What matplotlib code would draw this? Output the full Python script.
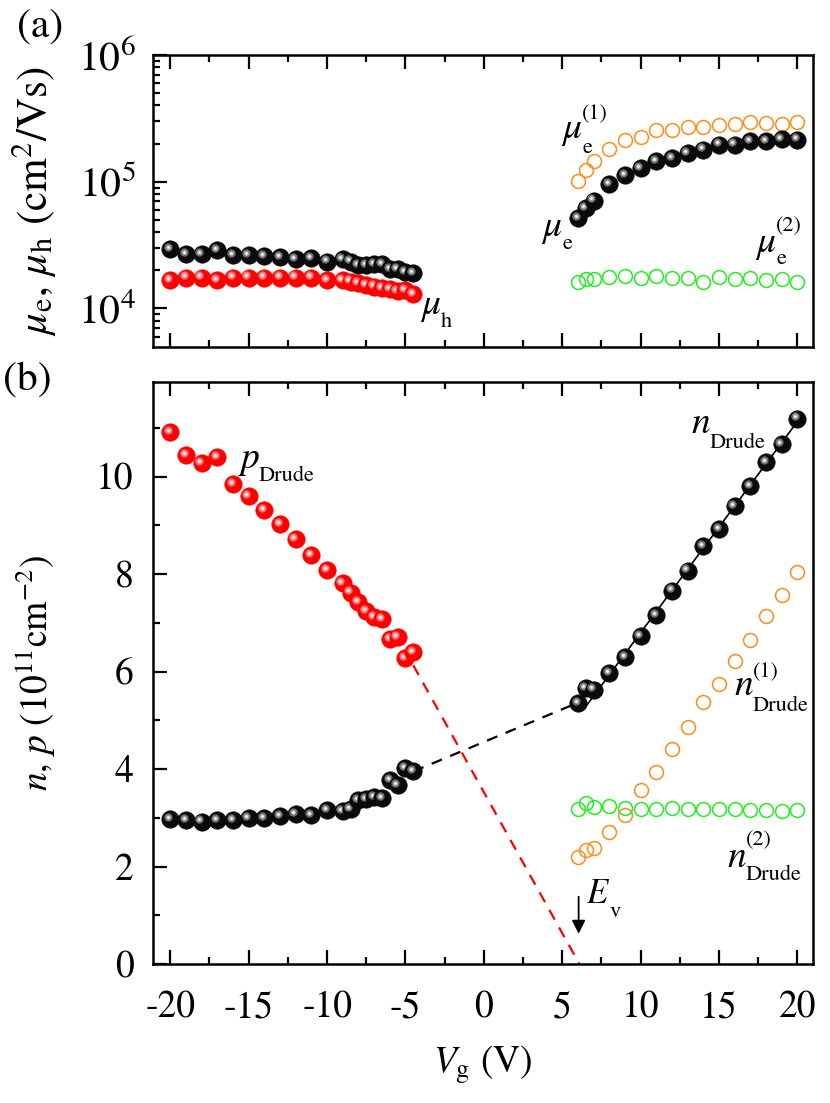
import numpy as np
import matplotlib
matplotlib.use('Agg')
import matplotlib.pyplot as plt
from matplotlib.ticker import MultipleLocator, LogLocator, NullFormatter
from matplotlib.transforms import offset_copy

plt.rcParams['font.family'] = 'STIXGeneral'
plt.rcParams['mathtext.fontset'] = 'stix'
plt.rcParams['axes.unicode_minus'] = False

# gate voltages
vh = [-20, -19, -18, -17, -16, -15, -14, -13, -12, -11, -10, -9,
      -8.5, -8, -7.5, -7, -6.5, -6, -5.5, -5, -4.5]
ve = [6, 6.5, 7, 8, 9, 10, 11, 12, 13, 14, 15, 16, 17, 18, 19, 20]

# (a) mobilities, cm^2/Vs
mu_k = [29400, 26900, 26900, 28900, 26500, 26500, 26000, 25400, 24500, 24900, 23400,
        24500, 23400, 22100, 22100, 22500, 22500, 20400, 20400, 19500, 19000]
mu_h = [16800, 17500, 17500, 16800, 17500, 17500, 17500, 17500, 17500, 17500, 16800,
        16800, 16300, 15800, 15400, 14900, 14400, 14200, 13800, 13900, 12900]
mu_e = [51600, 61900, 71100, 96400, 113500, 128200, 144700, 153900, 168500, 179000,
        196000, 196000, 208000, 208000, 217000, 215000]
mu_e1 = [100500, 124400, 144600, 181000, 212000, 225000, 254000, 257500, 270500, 270500,
         282500, 287400, 294500, 291000, 287000, 294500]
mu_e2 = [16300, 17000, 17000, 17700, 18100, 17300, 18100, 17300, 17300, 16300,
         17700, 17000, 17300, 16800, 17000, 16300]

# (b) densities, 1e11 cm^-2
p_drude = [10.92, 10.44, 10.27, 10.40, 9.85, 9.60, 9.31, 9.03, 8.71, 8.39, 8.08,
           7.82, 7.62, 7.43, 7.24, 7.12, 7.07, 6.66, 6.71, 6.27, 6.40]
n_hole_side = [2.97, 2.95, 2.92, 2.95, 2.95, 2.99, 2.99, 3.03, 3.08, 3.06, 3.16,
               3.13, 3.17, 3.36, 3.38, 3.42, 3.40, 3.77, 3.67, 4.02, 3.95]
n_drude = [5.36, 5.66, 5.63, 5.96, 6.30, 6.73, 7.16, 7.66, 8.07, 8.57, 8.92,
           9.39, 9.81, 10.30, 10.67, 11.19]
n_drude1 = [2.20, 2.33, 2.39, 2.70, 3.06, 3.56, 3.94, 4.42, 4.87, 5.38, 5.74,
            6.22, 6.65, 7.14, 7.57, 8.05]
n_drude2 = [3.17, 3.31, 3.23, 3.24, 3.21, 3.19, 3.19, 3.21, 3.19, 3.19, 3.19,
            3.17, 3.16, 3.16, 3.13, 3.15]

# extrapolation of p to zero (E_v)
p_ext_v = [-4.5, 6.1]
p_ext = [6.13, 0.0]

W, H = 830, 1103
fig = plt.figure(figsize=(W/100, H/100), dpi=100)
L, R = 153/W, 813/W
ax1 = fig.add_axes([L, 1-346.5/H, R-L, (346.5-55)/H])
ax2 = fig.add_axes([L, 1-964/H, R-L, (964-382)/H])

ax1.set_yscale('log')
ax1.set_xlim(-21.1, 21.0)
ax2.set_xlim(-21.1, 21.0)
ax1.set_ylim(10**3.70, 1e6)
ax2.set_ylim(0, 11.94)


def spheres(ax, xs, ys, body, mid, light, z=3):
    off = offset_copy(ax.transData, fig=fig, x=-2.2, y=2.2, units='dots')
    for i, (x, y) in enumerate(zip(xs, ys)):
        zz = z + i*0.01
        ax.plot(x, y, 'o', ms=12.5, mfc=body, mec=body, mew=0.5, zorder=zz)
        ax.plot(x, y, 'o', ms=6, mfc=mid, mec='none', transform=off, zorder=zz+0.002)
        ax.plot(x, y, 'o', ms=3.5, mfc=light, mec='none', transform=off, zorder=zz+0.004)
        ax.plot(x, y, 'o', ms=1.8, mfc='white', mec='none', transform=off, zorder=zz+0.006)


def rings(ax, xs, ys, color):
    ax.plot(xs, ys, 'o', ms=10, mfc='none', mec=color, mew=1.1, ls='none', zorder=2)


def sym(x, y, main, sub=None, sup=None, dx=20, sdy=13, udy=-19, fs=27, sfs=16):
    # symbol with Origin-style stacked sub/superscript, placed in figure pixels
    fig.text(x/W, 1-y/H, main, fontsize=fs, ha='left', va='baseline')
    if sub:
        fig.text((x+dx)/W, 1-(y+sdy)/H, sub, fontsize=sfs, ha='left', va='baseline')
    if sup:
        fig.text((x+dx)/W, 1-(y+udy)/H, sup, fontsize=sfs, ha='left', va='baseline')


orange = '#ff8c1a'
green = '#22ee22'

# (a)
spheres(ax1, vh, mu_k, '#0a0a0a', '#6e6e6e', '#b0b0b0')
spheres(ax1, vh, mu_h, '#ff0000', '#ff6a6a', '#ffb0b0', z=4)
rings(ax1, ve, mu_e1, orange)
rings(ax1, ve, mu_e2, green)
spheres(ax1, ve, mu_e, '#0a0a0a', '#6e6e6e', '#b0b0b0')

# (b)
ax2.plot(p_ext_v, p_ext, ls=(0, (5, 4)), color='red', lw=1.6, zorder=1)
ax2.plot([vh[-1], ve[0]], [n_hole_side[-1], n_drude[0]], ls=(0, (5, 4)), color='k',
         lw=1.6, zorder=1)
sel = np.array(ve) >= 7
k, b = np.polyfit(np.array(ve)[sel], np.array(n_drude)[sel], 1)
vf = np.array([6.45, 20.2])
ax2.plot(vf, k*vf + b, color='k', lw=1.2, zorder=1)

rings(ax2, ve, n_drude1, orange)
rings(ax2, ve, n_drude2, green)
spheres(ax2, vh, p_drude, '#ff0000', '#ff6a6a', '#ffb0b0')
spheres(ax2, vh, n_hole_side, '#0a0a0a', '#6e6e6e', '#b0b0b0')
spheres(ax2, ve, n_drude, '#0a0a0a', '#6e6e6e', '#b0b0b0')

ax2.annotate('', xy=(6.05, 0.62), xytext=(6.05, 1.38),
             arrowprops=dict(arrowstyle='-|>', color='k', lw=1.3, mutation_scale=20,
                             shrinkA=0, shrinkB=0))

# labels
sym(420, 314, r'$\mu$', 'h', dx=21)
sym(561, 138, r'$\mu$', 'e', '(1)', dx=21, sdy=15, udy=-19)
sym(541, 236, r'$\mu$', 'e', dx=21, sdy=13)
sym(755, 252, r'$\mu$', 'e', '(2)', dx=21, sdy=12, udy=-21)
sym(238, 468, r'$p$', 'Drude', dx=21, sdy=13)
sym(691, 433, r'$n$', 'Drude', dx=19, sdy=15)
sym(734, 695, r'$n$', 'Drude', '(1)', dx=19, sdy=16, udy=-18)
sym(727, 867, r'$n$', 'Drude', '(2)', dx=19, sdy=13, udy=-22)
sym(586, 903, r'$E$', 'v', dx=24, sdy=14, fs=25)

fs = 27
for ax in (ax1, ax2):
    ax.xaxis.set_major_locator(MultipleLocator(5))
    ax.xaxis.set_minor_locator(MultipleLocator(2.5))
    ax.tick_params(which='both', direction='in', top=True, right=False,
                   labelsize=fs, width=1.6)
    ax.tick_params(which='major', length=10)
    ax.tick_params(which='minor', length=5)
    ax.tick_params(axis='x', pad=19)
    ax.tick_params(axis='y', pad=14)
    for s in ax.spines.values():
        s.set_linewidth(1.8)

ax1.tick_params(axis='x', labelbottom=False)
ax1.tick_params(axis='y', labelsize=30, pad=12)
ax1.yaxis.set_major_locator(LogLocator(base=10, numticks=10))
ax1.yaxis.set_minor_locator(LogLocator(base=10, subs=np.arange(2, 10), numticks=20))
ax1.yaxis.set_minor_formatter(NullFormatter())

ax2.yaxis.set_major_locator(MultipleLocator(2))
ax2.yaxis.set_minor_locator(MultipleLocator(1))

ax1.set_ylabel(r'$\mu_{\rm e}$, $\mu_{\rm h}$ (cm$^{2}$/Vs)', fontsize=31)
ax2.set_ylabel(r'$n$, $p$ (10$^{11}$cm$^{-2}$)', fontsize=fs)
ax2.set_xlabel(r'$V_{\rm g}$ (V)', fontsize=fs)
ax1.yaxis.set_label_coords(-0.143, 0.5)
ax2.yaxis.set_label_coords(-0.144, 0.5)
ax2.xaxis.set_label_coords(0.5, -0.136)

fig.text(40/W, 1-28/H, '(a)', fontsize=30, ha='center', va='center')
fig.text(27/W, 1-380/H, '(b)', fontsize=30, ha='center', va='center')

fig.savefig('out.png', dpi=100)
